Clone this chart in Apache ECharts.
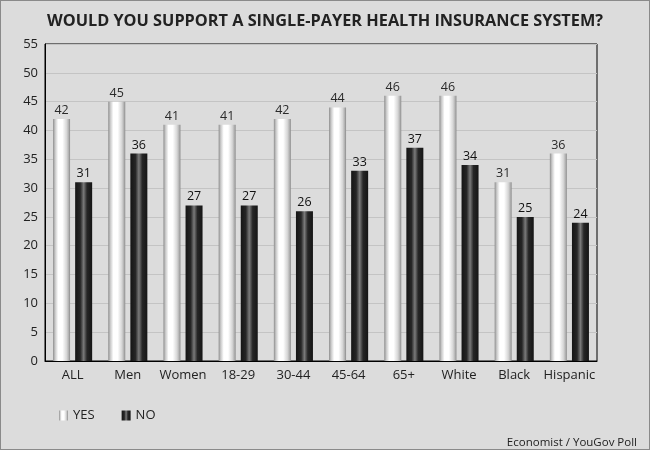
<!DOCTYPE html>
<html><head><meta charset="utf-8">
<script src="https://cdn.jsdelivr.net/npm/echarts@6/dist/echarts.min.js"></script>
<style>html,body{margin:0;padding:0;background:#dcdcdc;}#c{width:650px;height:450px;box-sizing:border-box;border:1px solid #8a8a8a;}</style>
</head><body><div id="c"></div>
<script>
const categories = ['ALL','Men','Women','18-29','30-44','45-64','65+','White','Black','Hispanic'];
const yesValues = [42,45,41,41,42,44,46,46,31,36];
const noValues = [31,36,27,27,26,33,37,34,25,24];
const yTicks = [0,5,10,15,20,25,30,35,40,45,50,55];

const yesGrad = {type:'linear',x:0,y:0,x2:1,y2:0,colorStops:[
 {offset:0,color:'#8c8c8c'},{offset:0.12,color:'#c8c8c8'},{offset:0.3,color:'#ffffff'},
 {offset:0.55,color:'#ffffff'},{offset:0.8,color:'#d6d6d6'},{offset:0.92,color:'#b0b0b0'},{offset:1,color:'#8a8a8a'}]};
const noGrad = {type:'linear',x:0,y:0,x2:1,y2:0,colorStops:[
 {offset:0,color:'#151515'},{offset:0.3,color:'#262626'},{offset:0.5,color:'#7a7a7a'},
 {offset:0.7,color:'#262626'},{offset:1,color:'#151515'}]};
const FONT = 'Open Sans';
const chart = echarts.init(document.getElementById('c'), null, {renderer:'canvas'});
chart.setOption({
  backgroundColor:'#dcdcdc',
  animation:false,
  textStyle:{fontFamily:FONT},
  title:[{text:'WOULD YOU SUPPORT A SINGLE-PAYER HEALTH INSURANCE SYSTEM?',left:'center',top:7,
    textStyle:{fontFamily:FONT,fontSize:16.3,fontWeight:'bold',color:'#222'}},
    {text:'Economist / YouGov Poll',right:7,top:431,textStyle:{fontFamily:FONT,fontSize:11.5,fontWeight:'normal',color:'#222'}}],
  legend:{left:53,top:403,itemWidth:9,itemHeight:10,itemGap:27,
    textStyle:{fontFamily:FONT,fontSize:13,color:'#222'},
    data:[{name:'YES',icon:'rect'},{name:'NO',icon:'rect'}]},
  grid:{left:44,right:52,top:43,bottom:88,show:true,borderColor:'#000',borderWidth:1,backgroundColor:'transparent'},
  xAxis:{type:'category',data:categories,axisTick:{show:false},
    axisLine:{lineStyle:{color:'#000'}},
    axisLabel:{fontFamily:FONT,fontSize:13,color:'#222',margin:8,interval:0}},
  yAxis:{type:'value',min:yTicks[0],max:yTicks[yTicks.length-1],interval:5,
    axisLine:{show:true,lineStyle:{color:'#000'}},axisTick:{show:false},
    axisLabel:{fontFamily:FONT,fontSize:13,color:'#222',margin:7},
    splitLine:{lineStyle:{color:'#c4c4c4'}}},
  series:[
    {name:'YES',type:'bar',data:yesValues,barWidth:17,barGap:'30%',
     itemStyle:{color:yesGrad},
     label:{show:true,position:'top',distance:2,fontFamily:FONT,fontSize:12.5,color:'#2a2a2a'}},
    {name:'NO',type:'bar',data:noValues,barWidth:17,
     itemStyle:{color:noGrad},
     label:{show:true,position:'top',distance:2,fontFamily:FONT,fontSize:12.5,color:'#111'}}
  ]
});
</script></body></html>
